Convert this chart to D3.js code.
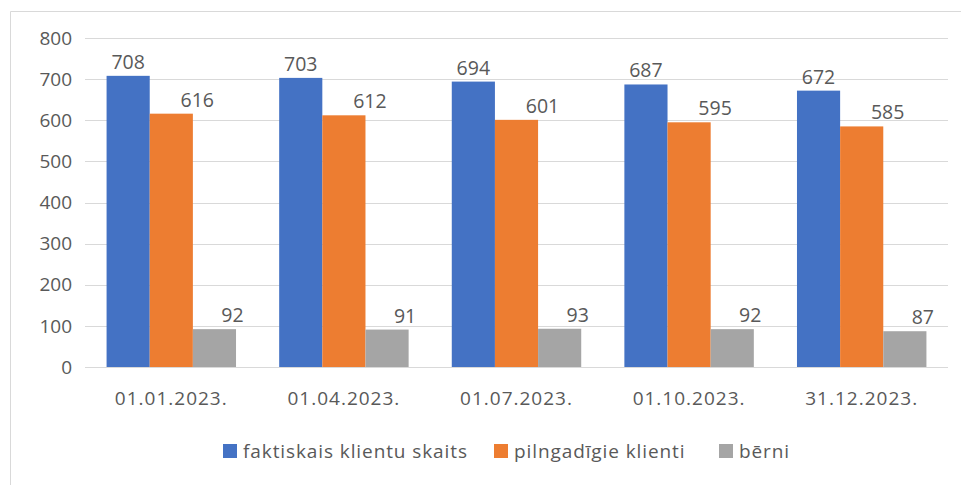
<!DOCTYPE html>
<html>
<head>
<meta charset="utf-8">
<script src="https://cdn.jsdelivr.net/npm/d3@7"></script>
<style>
  body { margin: 0; background: #fff; }
  svg text { font-family: "Open Sans", sans-serif; fill: #595959; }
</style>
</head>
<body>
<div id="chart"></div>
<script>
const categories = ['01.01.2023.', '01.04.2023.', '01.07.2023.', '01.10.2023.', '31.12.2023.']
const seriesNames = ['faktiskais klientu skaits', 'pilngadīgie klienti', 'bērni']
const total = [708, 703, 694, 687, 672]
const adults = [616, 612, 601, 595, 585]
const children = [92, 91, 93, 92, 87]
const yTicks = [0, 100, 200, 300, 400, 500, 600, 700, 800]

const colors = ['#4472c4', '#ed7d31', '#a5a5a5']
// data labels of the 2nd and 3rd series sit a bit to the right of their bars
const labelShift = [0, 26, 18]
const width = 961, height = 485
const margin = {top: 38, right: 13, bottom: 118, left: 85}
const chartWidth = width - margin.left - margin.right
const chartHeight = height - margin.top - margin.bottom

const svg = d3.select('#chart').append('svg')
  .attr('width', width)
  .attr('height', height)

// frame (top + left edge only, the picture is cropped)
svg.append('line').attr('x1', 10.5).attr('x2', width).attr('y1', 11.5).attr('y2', 11.5)
  .attr('stroke', '#d9d9d9')
svg.append('line').attr('x1', 10.5).attr('x2', 10.5).attr('y1', 11.5).attr('y2', height)
  .attr('stroke', '#d9d9d9')

const g = svg.append('g').attr('transform', `translate(${margin.left}, ${margin.top})`)

const x0 = d3.scaleBand().domain(categories).range([0, chartWidth]).paddingInner(0).paddingOuter(0)
const x1 = d3.scaleBand().domain([0, 1, 2]).range([x0.bandwidth() * 0.125, x0.bandwidth() * 0.875])
const y = d3.scaleLinear().domain([0, 800]).range([chartHeight, 0])

g.selectAll('.grid')
  .data(yTicks)
  .enter()
  .append('line')
  .attr('class', 'grid')
  .attr('x1', 0)
  .attr('x2', chartWidth)
  .attr('y1', d => Math.round(y(d)) + 0.5)
  .attr('y2', d => Math.round(y(d)) + 0.5)
  .attr('stroke', '#d9d9d9')
  .attr('stroke-width', 1)

g.selectAll('.ytick')
  .data(yTicks)
  .enter()
  .append('text')
  .attr('class', 'ytick')
  .attr('x', -13)
  .attr('y', d => y(d))
  .attr('dy', '0.35em')
  .attr('text-anchor', 'end')
  .style('font-size', '19px')
  .text(d => d)

const rows = categories.map((c, i) => ({cat: c, vals: [total[i], adults[i], children[i]]}))

const grp = g.selectAll('.grp')
  .data(rows)
  .enter()
  .append('g')
  .attr('class', 'grp')
  .attr('transform', d => `translate(${x0(d.cat)}, 0)`)

grp.selectAll('rect')
  .data(d => d.vals)
  .enter()
  .append('rect')
  .attr('x', (d, i) => x1(i))
  .attr('width', x1.bandwidth())
  .attr('y', d => y(d))
  .attr('height', d => y(0) - y(d))
  .attr('fill', (d, i) => colors[i])

grp.selectAll('.val')
  .data(d => d.vals)
  .enter()
  .append('text')
  .attr('class', 'val')
  .attr('x', (d, i) => x1(i) + x1.bandwidth() / 2 + labelShift[i])
  .attr('y', d => y(d) - 7)
  .attr('text-anchor', 'middle')
  .style('font-size', '19.5px')
  .text(d => d)

g.selectAll('.xlab')
  .data(categories)
  .enter()
  .append('text')
  .attr('class', 'xlab')
  .attr('x', d => x0(d) + x0.bandwidth() / 2)
  .attr('y', chartHeight + 38)
  .attr('text-anchor', 'middle')
  .style('font-size', '19px')
  .style('letter-spacing', '1px')
  .text(d => d)

// legend
const legendX = [243, 514, 739]
const legend = svg.append('g').attr('transform', 'translate(0, 451)')
const item = legend.selectAll('.leg')
  .data(seriesNames)
  .enter()
  .append('g')
  .attr('class', 'leg')
  .attr('transform', (d, i) => `translate(${legendX[i]}, 0)`)
item.append('rect')
  .attr('x', -20).attr('y', -7).attr('width', 14).attr('height', 14)
  .attr('fill', (d, i) => colors[i])
item.append('text')
  .attr('x', 0)
  .attr('dy', '0.35em')
  .style('font-size', '19px')
  .style('letter-spacing', '0.9px')
  .text(d => d)
</script>
</body>
</html>
